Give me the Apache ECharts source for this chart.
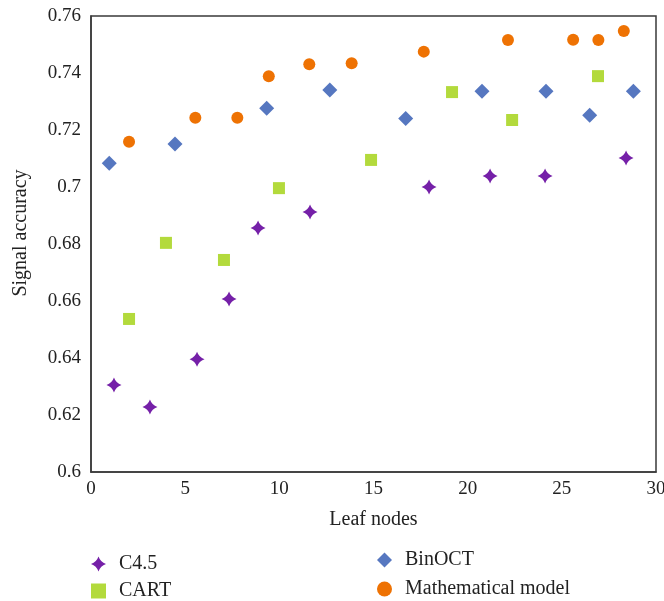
<!DOCTYPE html>
<html>
<head>
<meta charset="utf-8">
<script src="https://cdn.jsdelivr.net/npm/echarts@6/dist/echarts.min.js"></script>
<style>
html,body{margin:0;padding:0;background:#fff;}
#chart{width:664px;height:601px;}
</style>
</head>
<body>
<div id="chart"></div>
<script>
// Data: [leaf nodes, signal accuracy]
const c45X = [1.22, 3.13, 5.63, 7.33, 8.87, 11.63, 17.95, 21.19, 24.11, 28.41];
const c45Y = [0.6305, 0.6228, 0.6396, 0.6607, 0.6856, 0.6912, 0.700, 0.7039, 0.7039, 0.7102];

const cartX = [2.02, 3.98, 7.06, 9.98, 14.87, 19.17, 22.36, 26.92];
const cartY = [0.6537, 0.6804, 0.6744, 0.6996, 0.7095, 0.7333, 0.7235, 0.7389];

const binX = [0.97, 4.46, 9.33, 12.68, 16.71, 20.76, 24.16, 26.48, 28.80];
const binY = [0.7083, 0.7151, 0.7276, 0.7340, 0.7240, 0.7336, 0.7336, 0.7252, 0.7336];

const mathX = [2.02, 5.54, 7.77, 9.44, 11.59, 13.84, 17.67, 22.14, 25.60, 26.94, 28.29];
const mathY = [0.7159, 0.7243, 0.7243, 0.7389, 0.7431, 0.7434, 0.7475, 0.7516, 0.7517, 0.7516, 0.7547];

const seriesNames = ['C4.5', 'CART', 'BinOCT', 'Mathematical model'];
const xTicks = [0, 5, 10, 15, 20, 25, 30];
const yTicks = [0.6, 0.62, 0.64, 0.66, 0.68, 0.7, 0.72, 0.74, 0.76];

const zip = (xs, ys) => xs.map((x, i) => [x, ys[i]]);
const starPath = 'path://M0,-10 Q2.6,-2.6 10,0 Q2.6,2.6 0,10 Q-2.6,2.6 -10,0 Q-2.6,-2.6 0,-10Z';
const FONT = '"Liberation Serif", "DejaVu Serif", serif';
const TXT = '#222';
const AX = '#3a3a3a';
const COLORS = ['#7520A8', '#B3DA3C', '#5677C0', '#EE7203'];

const chart = echarts.init(document.getElementById('chart'), null, {renderer: 'canvas'});
chart.setOption({
  backgroundColor: '#fff',
  animation: false,
  textStyle: {fontFamily: FONT},
  grid: {left: 91, right: 8, top: 16, bottom: 129, show: true, borderColor: AX, borderWidth: 1.5,
    containLabel: false, outerBoundsMode: 'none'},
  legend: [
    {
      data: [{name: seriesNames[0], icon: starPath}, {name: seriesNames[1], icon: 'rect'}],
      orient: 'vertical', left: 91, top: 554, height: 80, padding: 0, itemGap: 7,
      itemWidth: 15, itemHeight: 15,
      textStyle: {fontFamily: FONT, fontSize: 20, color: TXT, padding: [0, 0, 0, 8]}
    },
    {
      data: [{name: seriesNames[2], icon: 'diamond'}, {name: seriesNames[3], icon: 'circle'}],
      orient: 'vertical', left: 377, top: 550, height: 80, padding: 0, itemGap: 9,
      itemWidth: 15, itemHeight: 15,
      textStyle: {fontFamily: FONT, fontSize: 20, color: TXT, padding: [0, 0, 0, 8]}
    }
  ],
  xAxis: {
    type: 'value', min: 0, max: 30, interval: 5,
    name: 'Leaf nodes', nameLocation: 'middle', nameGap: 38,
    nameTextStyle: {fontFamily: FONT, fontSize: 20, color: TXT},
    axisLine: {show: true, lineStyle: {color: AX, width: 1.5}},
    axisTick: {show: false},
    splitLine: {show: false},
    axisLabel: {fontFamily: FONT, fontSize: 19, color: TXT, margin: 8,
      formatter: v => xTicks.includes(v) ? String(v) : ''}
  },
  yAxis: {
    type: 'value', min: 0.6, max: 0.76, interval: 0.02,
    name: 'Signal accuracy', nameLocation: 'middle', nameGap: 60,
    nameTextStyle: {fontFamily: FONT, fontSize: 20, color: TXT, padding: [0, 0, 0, 22]},
    axisLine: {show: true, lineStyle: {color: AX, width: 1.5}},
    axisTick: {show: false},
    splitLine: {show: false},
    axisLabel: {fontFamily: FONT, fontSize: 19, color: TXT, margin: 10,
      formatter: v => {
        const r = Math.round(v * 100) / 100;
        return yTicks.some(t => Math.abs(t - r) < 1e-9) ? String(r) : '';
      }}
  },
  series: [
    {name: seriesNames[0], type: 'scatter', data: zip(c45X, c45Y), symbol: starPath, symbolSize: 15,
      itemStyle: {color: COLORS[0], opacity: 1}},
    {name: seriesNames[1], type: 'scatter', data: zip(cartX, cartY), symbol: 'rect', symbolSize: 12,
      itemStyle: {color: COLORS[1], opacity: 1}},
    {name: seriesNames[2], type: 'scatter', data: zip(binX, binY), symbol: 'diamond', symbolSize: 15,
      itemStyle: {color: COLORS[2], opacity: 1}},
    {name: seriesNames[3], type: 'scatter', data: zip(mathX, mathY), symbol: 'circle', symbolSize: 12,
      itemStyle: {color: COLORS[3], opacity: 1}}
  ]
});
</script>
</body>
</html>
